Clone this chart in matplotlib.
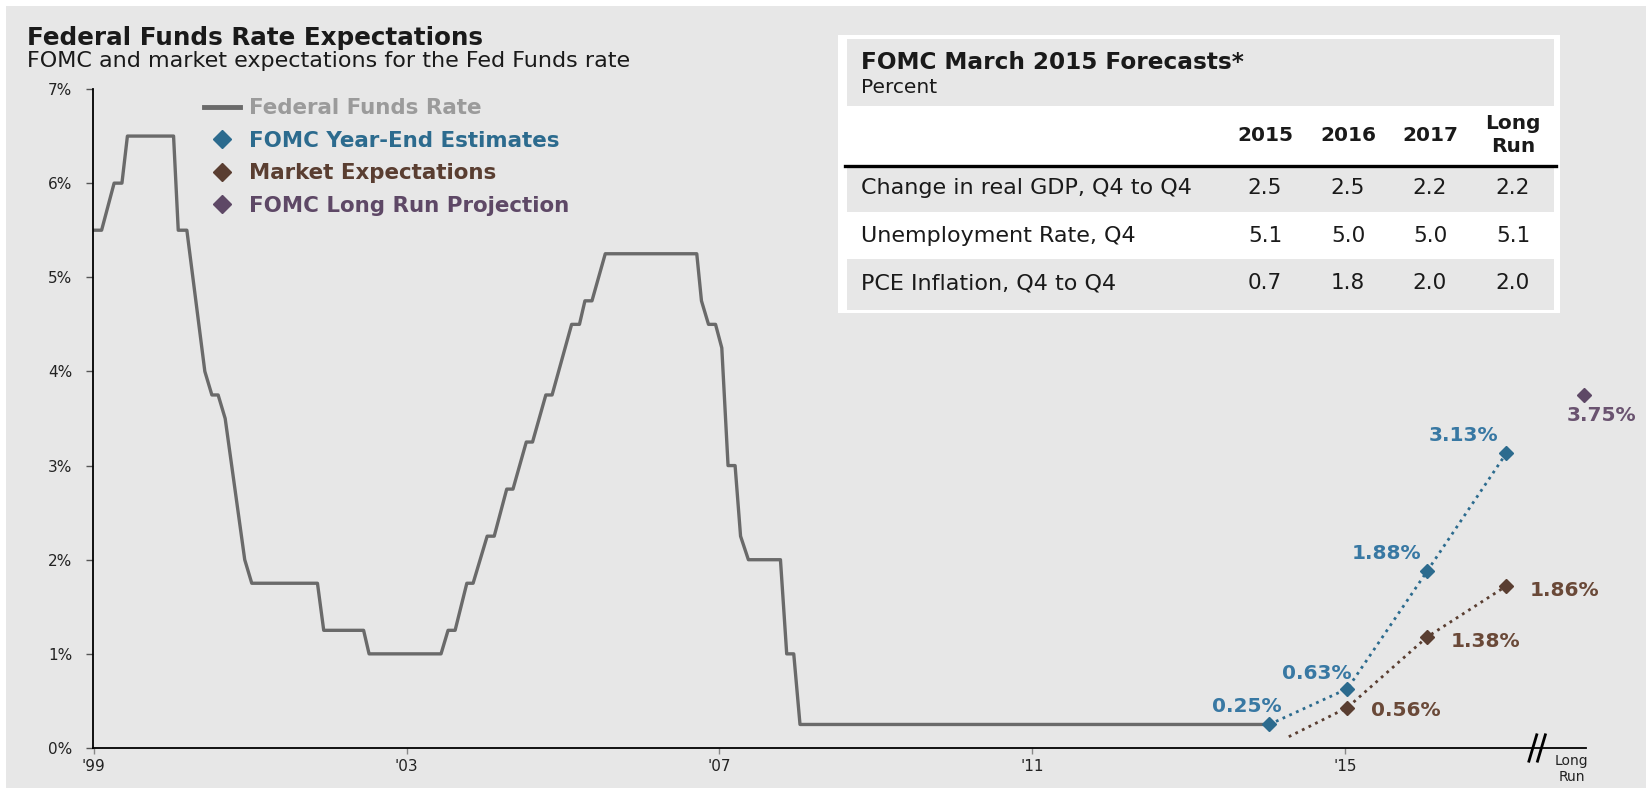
import matplotlib.pyplot as plt
from matplotlib.lines import Line2D
from matplotlib.patches import Rectangle

plt.rcParams['font.family'] = ['DejaVu Sans']

W, H = 1646, 788

# fed funds rate (x in chart years, '99 tick = 1999)
ffr_x = [1999.00, 1999.10, 1999.26, 1999.36, 1999.43, 2000.02, 2000.08, 2000.19, 2000.42, 2000.51,
         2000.59, 2000.68, 2000.93, 2001.02, 2001.86, 2001.94, 2002.45, 2002.52, 2003.44, 2003.53,
         2003.62, 2003.77, 2003.85, 2004.03, 2004.12, 2004.28, 2004.36, 2004.53, 2004.61, 2004.78,
         2004.86, 2005.11, 2005.21, 2005.28, 2005.37, 2005.54, 2006.71, 2006.77, 2006.86, 2006.95,
         2007.03, 2007.11, 2007.20, 2007.27, 2007.37, 2007.78, 2007.86, 2007.95, 2008.03, 2014.03]
ffr_y = [5.5, 5.5, 6.0, 6.0, 6.5, 6.5, 5.5, 5.5, 4.0, 3.75,
         3.75, 3.5, 2.0, 1.75, 1.75, 1.25, 1.25, 1.0, 1.0, 1.25,
         1.25, 1.75, 1.75, 2.25, 2.25, 2.75, 2.75, 3.25, 3.25, 3.75,
         3.75, 4.5, 4.5, 4.75, 4.75, 5.25, 5.25, 4.75, 4.5, 4.5,
         4.25, 3.0, 3.0, 2.25, 2.0, 2.0, 1.0, 1.0, 0.25, 0.25]

fomc_x = [2014.03, 2015.03, 2016.05, 2017.06]
fomc_y = [0.25, 0.63, 1.88, 3.13]
fomc_lbl = ['0.25%', '0.63%', '1.88%', '3.13%']

mkt_x = [2014.28, 2015.03, 2016.05, 2017.06]
mkt_y = [0.12, 0.43, 1.18, 1.72]
mkt_lbl = ['0.56%', '1.38%', '1.86%']

lr_x = [2018.06]
lr_y = [3.75]
lr_lbl = ['3.75%']

xtick_pos = [1999, 2003, 2007, 2011, 2015]
xtick_lbl = ["'99", "'03", "'07", "'11", "'15"]

tbl_cols = ['2015', '2016', '2017', 'Long\nRun']
tbl_rows = ['Change in real GDP, Q4 to Q4', 'Unemployment Rate, Q4', 'PCE Inflation, Q4 to Q4']
gdp = [2.5, 2.5, 2.2, 2.2]
unemp = [5.1, 5.0, 5.0, 5.1]
pce = [0.7, 1.8, 2.0, 2.0]

bgc = '#e7e7e7'
ffr_c = '#6a6a6a'
blue = '#2c6b8e'
brown = '#5a3e31'
purple = '#5e4866'
txt = '#1a1a1a'

fig = plt.figure(figsize=(W / 100, H / 100), dpi=100)
fig.patch.set_facecolor('white')

# background + title + table, in pixel coords
bg = fig.add_axes([0, 0, 1, 1])
bg.set_xlim(0, W)
bg.set_ylim(H, 0)
bg.axis('off')
bg.add_patch(Rectangle((6, 6), W, H, fc=bgc, ec='none'))
bg.text(27, 45, 'Federal Funds Rate Expectations', fontsize=17.7, fontweight='bold', color=txt, va='baseline')
bg.text(27, 67, 'FOMC and market expectations for the Fed Funds rate', fontsize=16, color=txt, va='baseline')

bg.add_patch(Rectangle((838, 35), 722, 278, fc='white', ec='none'))
for y0, y1 in [(39, 106), (168, 212), (259, 310)]:
    bg.add_patch(Rectangle((847, y0), 707, y1 - y0, fc=bgc, ec='none'))
bg.plot([845, 1556], [165.5, 165.5], color='black', lw=2.4)
bg.text(861, 69, 'FOMC March 2015 Forecasts*', fontsize=16.7, fontweight='bold', color=txt, va='baseline')
bg.text(861, 93, 'Percent', fontsize=14.5, color=txt, va='baseline')
col_x = [1265, 1348, 1430, 1513]
row_y = [188, 236, 283]
for cx, c in zip(col_x, tbl_cols):
    bg.text(cx, 135, c, fontsize=14.5, fontweight='bold', color=txt, ha='center', va='center',
            linespacing=1.25)
for ry, name, vals in zip(row_y, tbl_rows, [gdp, unemp, pce]):
    bg.text(861, ry, name, fontsize=16, color=txt, va='center')
    for cx, v in zip(col_x, vals):
        bg.text(cx, ry, '%.1f' % v, fontsize=15.5, color=txt, ha='center', va='center')

# main chart
ax = fig.add_axes([93 / W, 1 - 748 / H, (1586 - 93) / W, (748 - 89) / H])
ax.patch.set_alpha(0)
ax.plot(ffr_x, ffr_y, color=ffr_c, lw=2.4, zorder=2)
ax.plot(fomc_x, fomc_y, ls=':', color=blue, lw=2, marker='D', ms=7.5, zorder=3)
ax.plot(mkt_x, mkt_y, ls=':', color=brown, lw=2, marker='D', ms=7.5, markevery=[1, 2, 3], zorder=3)
ax.plot(lr_x, lr_y, ls='none', marker='D', color=purple, ms=7.5, clip_on=False, zorder=3)

blue_off = [(9, 9), (3, 7), (-4, 9), (-6, 9)]
for x, y, s, off in zip(fomc_x, fomc_y, fomc_lbl, blue_off):
    ax.annotate(s, (x, y), xytext=off, textcoords='offset points', ha='right', va='baseline',
                color='#3878a3', fontsize=14.5, fontweight='bold')
brown_off = [(17, -2), (17, -3.5), (17, -3.5)]
for x, y, s, off in zip(mkt_x[1:], mkt_y[1:], mkt_lbl, brown_off):
    ax.annotate(s, (x, y), xytext=off, textcoords='offset points', ha='left', va='center',
                color='#6a4938', fontsize=14.5, fontweight='bold')
ax.annotate(lr_lbl[0], (lr_x[0], lr_y[0]), xytext=(12, -8), textcoords='offset points',
            ha='center', va='top', color='#6a5370', fontsize=14.5, fontweight='bold',
            annotation_clip=False)

ax.set_xlim(1998.99, 2018.08)
ax.set_ylim(0, 7)
ax.set_yticks(range(8))
ax.set_yticklabels(['%d%%' % v for v in range(8)])
ax.set_xticks(xtick_pos)
ax.set_xticklabels(xtick_lbl)
for s in ['top', 'right']:
    ax.spines[s].set_visible(False)
for s in ['left', 'bottom']:
    ax.spines[s].set_linewidth(1.3)
    ax.spines[s].set_color('black')
ax.tick_params(axis='y', length=5, width=1, color='#555555', pad=10, labelsize=11, labelcolor='#222222')
ax.tick_params(axis='x', length=4, width=1, color='#888888', pad=4, labelsize=11, labelcolor='#222222')

ax.text(2017.9, -0.06, 'Long\nRun', fontsize=10, ha='center', va='top', color='#222222',
        linespacing=1.2, clip_on=False)
tr = ax.get_xaxis_transform()
for bx in [2017.40, 2017.51]:
    ax.plot([bx - 0.05, bx + 0.05], [-0.02, 0.02], transform=tr, color='black', lw=2, clip_on=False)

handles = [Line2D([], [], color=ffr_c, lw=3.5),
           Line2D([], [], ls='none', marker='D', ms=9, color=blue),
           Line2D([], [], ls='none', marker='D', ms=9, color=brown),
           Line2D([], [], ls='none', marker='D', ms=9, color=purple)]
labels = ['Federal Funds Rate', 'FOMC Year-End Estimates', 'Market Expectations', 'FOMC Long Run Projection']
ax.legend(handles, labels, loc='upper left', bbox_to_anchor=(204 / W, 1 - 98.5 / H),
          bbox_transform=fig.transFigure, frameon=False, prop={'weight': 'bold', 'size': 15.4},
          labelcolor=['#9b9b9b', blue, brown, purple], handlelength=1.7, handletextpad=0.4,
          labelspacing=0.58, borderpad=0, borderaxespad=0)

fig.savefig('out.png', dpi=100)
